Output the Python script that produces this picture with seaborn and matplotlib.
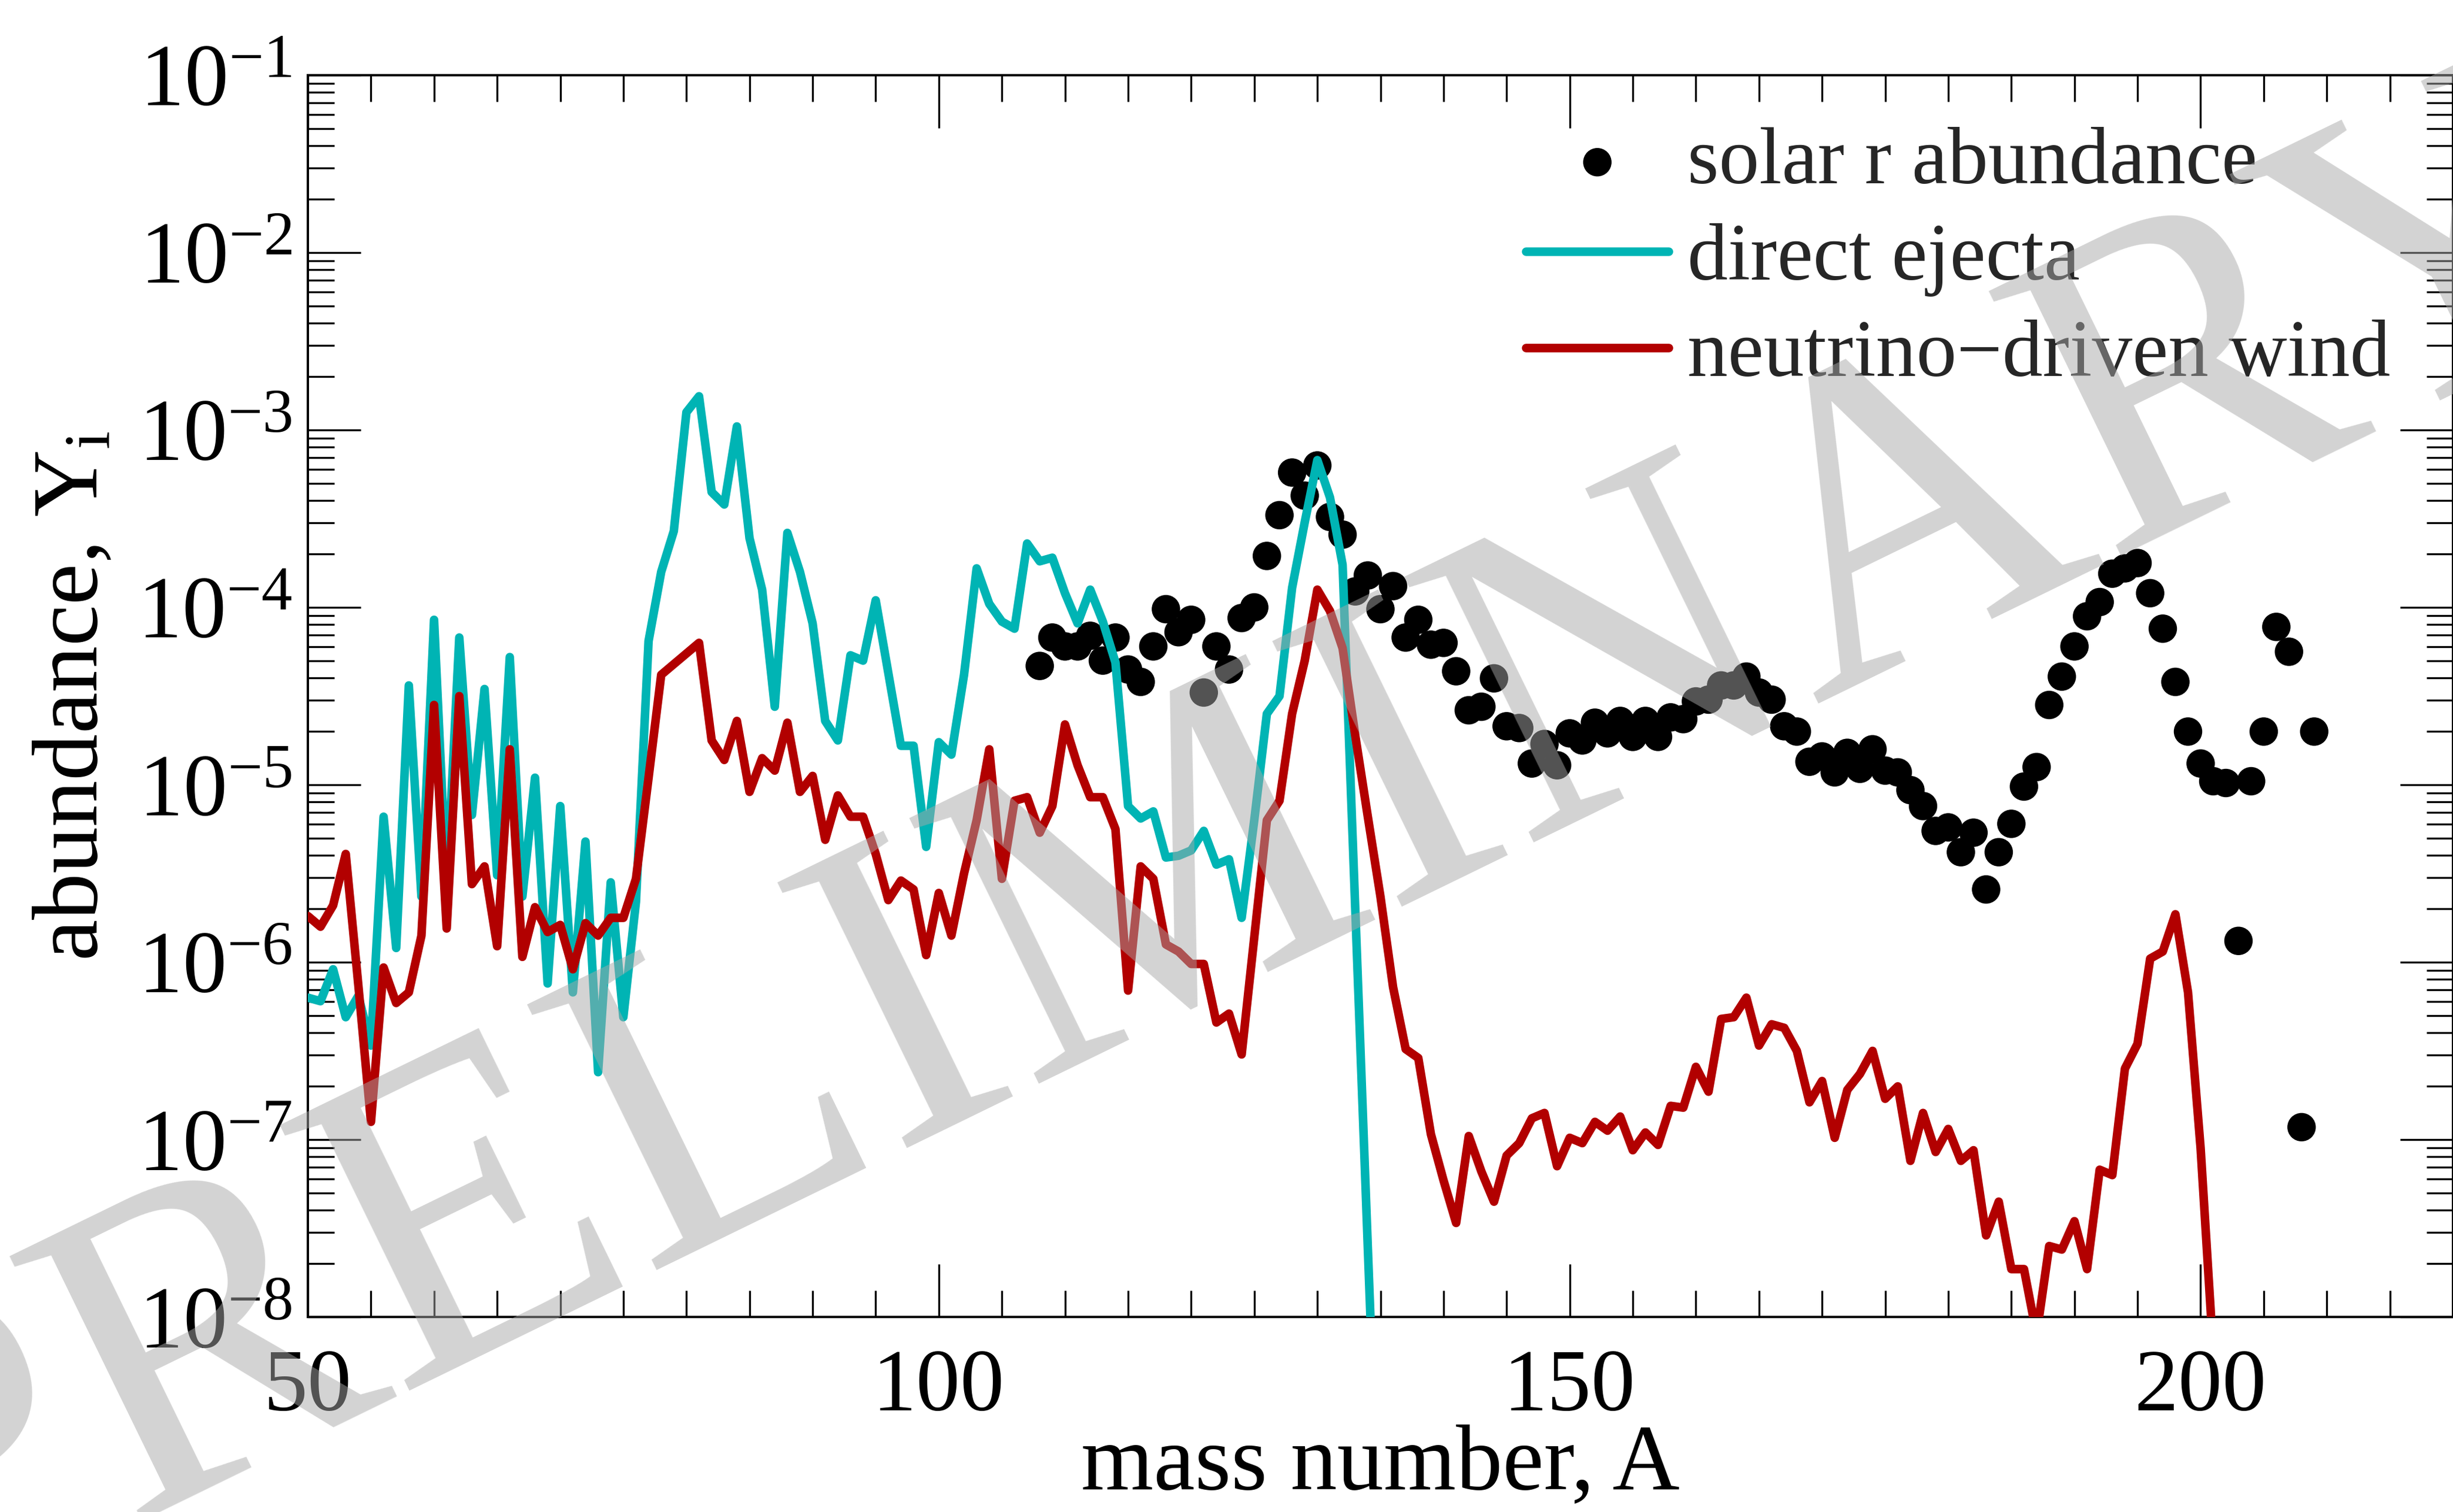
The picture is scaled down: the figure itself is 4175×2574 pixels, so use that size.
import numpy as np
import matplotlib
matplotlib.use("Agg")
import matplotlib.pyplot as plt
import seaborn as sns
from matplotlib.ticker import MultipleLocator, FixedLocator, LogLocator, NullFormatter

# ---------------- data (log10 of abundance) ----------------
direct_A0 = 50
direct_log10Y = [
    -6.20, -6.22, -6.04, -6.31, -6.19, -6.47, -5.18, -5.92, -4.44, -5.63,   # 50-59
    -4.07, -5.60, -4.17, -5.17, -4.46, -5.51, -4.28, -5.63, -4.96, -6.12,   # 60-69
    -5.12, -6.17, -5.32, -6.62, -5.55, -6.31, -5.66, -4.19, -3.80, -3.57,   # 70-79
    -2.90, -2.81, -3.35, -3.42, -2.98, -3.61, -3.90, -4.56, -3.58, -3.80,   # 80-89
    -4.09, -4.64, -4.75, -4.27, -4.30, -3.96, -4.37, -4.78, -4.78, -5.35,   # 90-99
    -4.76, -4.83, -4.38, -3.78, -3.98, -4.08, -4.12, -3.64, -3.74, -3.72,   # 100-109
    -3.92, -4.09, -3.90, -4.08, -4.31, -5.12, -5.19, -5.15, -5.41, -5.40,   # 110-119
    -5.37, -5.26, -5.45, -5.42, -5.75, -5.20, -4.60, -4.50, -3.89, -3.52,   # 120-129
    -3.17, -3.38, -3.76, -5.69, -7.61, -9.50,                               # 130-135
]

wind_A0 = 50
wind_log10Y = [
    -5.74, -5.80, -5.68, -5.39, -6.13, -6.90, -6.03, -6.23, -6.17, -5.85,   # 50-59
    -4.55, -5.81, -4.50, -5.56, -5.46, -5.91, -4.80, -5.97, -5.69, -5.83,   # 60-69
    -5.79, -6.04, -5.78, -5.85, -5.75, -5.75, -5.53, -4.96, -4.38, -4.32,   # 70-79
    -4.26, -4.20, -4.75, -4.86, -4.64, -5.04, -4.85, -4.92, -4.65, -5.04,   # 80-89
    -4.95, -5.31, -5.06, -5.18, -5.18, -5.39, -5.65, -5.54, -5.59, -5.96,   # 90-99
    -5.61, -5.85, -5.50, -5.20, -4.80, -5.53, -5.09, -5.07, -5.27, -5.12,   # 100-109
    -4.66, -4.89, -5.07, -5.07, -5.25, -6.16, -5.46, -5.53, -5.90, -5.94,   # 110-119
    -6.01, -6.01, -6.34, -6.29, -6.52, -5.86, -5.20, -5.09, -4.60, -4.30,   # 120-129
    -3.90, -4.02, -4.23, -4.72, -5.18, -5.63, -6.14, -6.49, -6.54, -6.97,   # 130-139
    -7.23, -7.47, -6.98, -7.18, -7.35, -7.09, -7.02, -6.88, -6.85, -7.15,   # 140-149
    -6.99, -7.02, -6.90, -6.95, -6.87, -7.06, -6.96, -7.03, -6.81, -6.82,   # 150-159
    -6.59, -6.73, -6.32, -6.31, -6.20, -6.47, -6.35, -6.37, -6.50, -6.79,   # 160-169
    -6.67, -6.99, -6.72, -6.63, -6.50, -6.77, -6.70, -7.12, -6.85, -7.07,   # 170-179
    -6.94, -7.12, -7.06, -7.54, -7.35, -7.73, -7.73, -8.10, -7.60, -7.62,   # 180-189
    -7.46, -7.73, -7.17, -7.20, -6.60, -6.46, -5.98, -5.94, -5.73, -6.17,   # 190-199
    -7.05, -8.20, -10.0,                                                    # 200-202
]

solar_A0 = 108
solar_log10Y = [
    -4.33, -4.17,                                                           # 108-109
    -4.22, -4.22, -4.16, -4.30, -4.17, -4.35, -4.42, -4.22, -4.01, -4.14,   # 110-119
    -4.07, -4.48, -4.22, -4.35, -4.06, -4.00, -3.71, -3.48, -3.24, -3.37,   # 120-129
    -3.20, -3.49, -3.59, -3.91, -3.82, -4.01, -3.88, -4.17, -4.07, -4.21,   # 130-139
    -4.20, -4.36, -4.58, -4.56, -4.40, -4.67, -4.68, -4.88, -4.77, -4.89,   # 140-149
    -4.71, -4.75, -4.65, -4.71, -4.64, -4.73, -4.64, -4.73, -4.62, -4.63,   # 150-159
    -4.53, -4.52, -4.44, -4.44, -4.39, -4.48, -4.52, -4.67, -4.70, -4.87,   # 160-169
    -4.84, -4.93, -4.82, -4.91, -4.80, -4.92, -4.93, -5.03, -5.12, -5.26,   # 170-179
    -5.24, -5.38, -5.27, -5.59, -5.38, -5.22, -5.01, -4.90, -4.55, -4.39,   # 180-189
    -4.22, -4.05, -3.97, -3.81, -3.78, -3.75, -3.92, -4.12, -4.42, -4.70,   # 190-199
    -4.88, -4.98, -4.99, -5.88, -4.98, -4.70, -4.11, -4.25, -6.93, -4.70,   # 200-209
]

labels = ["solar r abundance", "direct ejecta", "neutrino\u2212driven wind"]
x_major_ticks = [50, 100, 150, 200]
watermark = "PRELIMINARY"

direct_A = np.arange(direct_A0, direct_A0 + len(direct_log10Y))
wind_A = np.arange(wind_A0, wind_A0 + len(wind_log10Y))
solar_A = np.arange(solar_A0, solar_A0 + len(solar_log10Y))
direct_Y = np.power(10.0, direct_log10Y)
wind_Y = np.power(10.0, wind_log10Y)
solar_Y = np.power(10.0, solar_log10Y)

# ---------------- style ----------------
sns.set_theme(style="ticks")
plt.rcParams["font.family"] = ["Liberation Serif", "DejaVu Serif"]
plt.rcParams["mathtext.fontset"] = "custom"
plt.rcParams["mathtext.rm"] = "Liberation Serif"
plt.rcParams["mathtext.it"] = "Liberation Serif:italic"
plt.rcParams["mathtext.bf"] = "Liberation Serif:bold"
plt.rcParams["axes.unicode_minus"] = True

W, H = 4175, 2574
DPI = 300
fig = plt.figure(figsize=(W / DPI, H / DPI), dpi=DPI)
fig.patch.set_facecolor("white")
left_px, right_px, top_px, bottom_px = 524, 4175, 128, 2242
ax = fig.add_axes([left_px / W, 1 - bottom_px / H,
                   (right_px - left_px) / W, (bottom_px - top_px) / H])
ax.set_facecolor("white")

CYAN = "#00b4b4"
RED = "#b20000"
LW = 3.5

sns.scatterplot(x=solar_A, y=solar_Y, ax=ax, color="black", s=135,
                edgecolor="none", linewidth=0, label=labels[0], zorder=2)
sns.lineplot(x=direct_A, y=direct_Y, ax=ax, color=CYAN, lw=LW, sort=False,
             estimator=None, label=labels[1], zorder=3,
             solid_joinstyle="round", solid_capstyle="round")
sns.lineplot(x=wind_A, y=wind_Y, ax=ax, color=RED, lw=LW, sort=False,
             estimator=None, label=labels[2], zorder=4,
             solid_joinstyle="round", solid_capstyle="round")

ax.set_yscale("log")
ax.set_xlim(50, 220)
ax.set_ylim(1e-8, 1e-1)

ax.xaxis.set_major_locator(FixedLocator(x_major_ticks))
ax.xaxis.set_minor_locator(MultipleLocator(5))
ax.yaxis.set_major_locator(LogLocator(base=10, numticks=20))
ax.yaxis.set_minor_locator(LogLocator(base=10, subs=np.arange(2, 10), numticks=100))
ax.yaxis.set_minor_formatter(NullFormatter())

for s in ax.spines.values():
    s.set_linewidth(0.95)
    s.set_color("black")

ax.tick_params(which="both", direction="in", top=True, right=True,
               width=0.8, color="black", labelsize=36, labelcolor="black")
ax.tick_params(axis="y", which="both", pad=6.5)
ax.tick_params(axis="x", which="both", pad=13)
ax.tick_params(which="major", length=21.5)
ax.tick_params(which="minor", length=10.7)

ax.set_xlabel("mass number, A", fontsize=38, color="black")
ax.set_ylabel(r"abundance, Y$_{\rm i}$", fontsize=38, color="black")
ax.xaxis.set_label_coords(0.5, -0.086)
ax.yaxis.set_label_coords(-0.089, 0.5)

leg = ax.legend(loc="upper left", bbox_to_anchor=(2597 / W, 1 - 216 / H),
                bbox_transform=fig.transFigure, frameon=False, fontsize=33,
                borderpad=0, borderaxespad=0, handlelength=1.77,
                handletextpad=0.23, labelspacing=0.28, markerscale=1.0)

fig.text(0.50, 0.428, watermark, fontsize=184, rotation=26,
         rotation_mode="anchor", ha="center", va="center",
         color=(168 / 255, 168 / 255, 168 / 255), alpha=0.5,
         family="Liberation Serif", zorder=100)

fig.savefig("out.png", dpi=DPI, facecolor="white")
